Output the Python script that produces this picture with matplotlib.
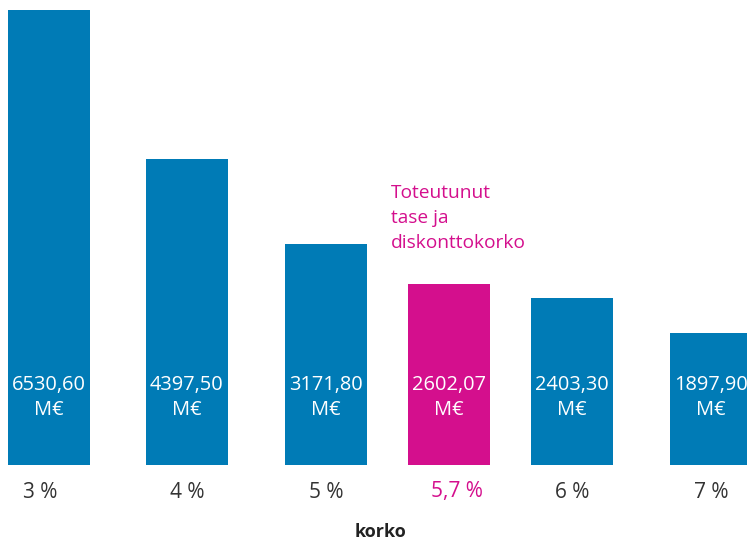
import numpy as np
import matplotlib
matplotlib.use("Agg")
import matplotlib.pyplot as plt
from matplotlib.transforms import blended_transform_factory, offset_copy

# data
rates = ['3 %', '4 %', '5 %', '5,7 %', '6 %', '7 %']
values = [6530.60, 4397.50, 3171.80, 2602.07, 2403.30, 1897.90]
value_labels = ['6530,60', '4397,50', '3171,80', '2602,07', '2403,30', '1897,90']
highlight = 3
note = 'Toteutunut\ntase ja\ndiskonttokorko'

# layout (slot positions; the highlighted bar sits a bit closer to its neighbours)
xpos = [0.0, 1.0, 2.007, 2.899, 3.79, 4.797]
label_shift = [-6, 0, 0, 6, 0, 0]  # points, small nudges seen in the reference
BLUE = '#007BB6'
MAGENTA = '#D40F8D'
DARK = '#333333'

plt.rcParams['font.family'] = ['Open Sans', 'DejaVu Sans']

fig = plt.figure(figsize=(7.47, 5.42), dpi=100)
ax = fig.add_axes([0, 77 / 542, 1, 465 / 542])

colors = [MAGENTA if i == highlight else BLUE for i in range(len(values))]
ax.bar(xpos, values, width=0.594, color=colors, linewidth=0)

trans = blended_transform_factory(ax.transData, ax.transAxes)
for x, lab in zip(xpos, value_labels):
    ax.text(x, 0.146, lab + '\nM€', transform=trans, ha='center', va='center',
            color='white', fontsize=14.4, linespacing=1.32)

# category labels under the bars
for i, (x, lab) in enumerate(zip(xpos, rates)):
    t = offset_copy(trans, fig=fig, x=label_shift[i], y=0, units='points')
    ax.text(x, -27 / 465, lab, transform=t, ha='center', va='center',
            fontsize=15, color=MAGENTA if i == highlight else DARK)

ax.set_xlim(-0.355, 5.058)
ax.set_ylim(0, 6674)
ax.set_xticks([])
ax.set_yticks([])
for s in ax.spines.values():
    s.set_visible(False)

fig.text(391 / 747, 1 - 184 / 542, note, ha='left', va='top', color=MAGENTA,
         fontsize=13.8, linespacing=1.5)
fig.text(381 / 747, 1 - 532 / 542, 'korko', ha='center', va='center',
         color='#222222', fontsize=13, fontweight='bold')

fig.savefig('out.png', dpi=100)
